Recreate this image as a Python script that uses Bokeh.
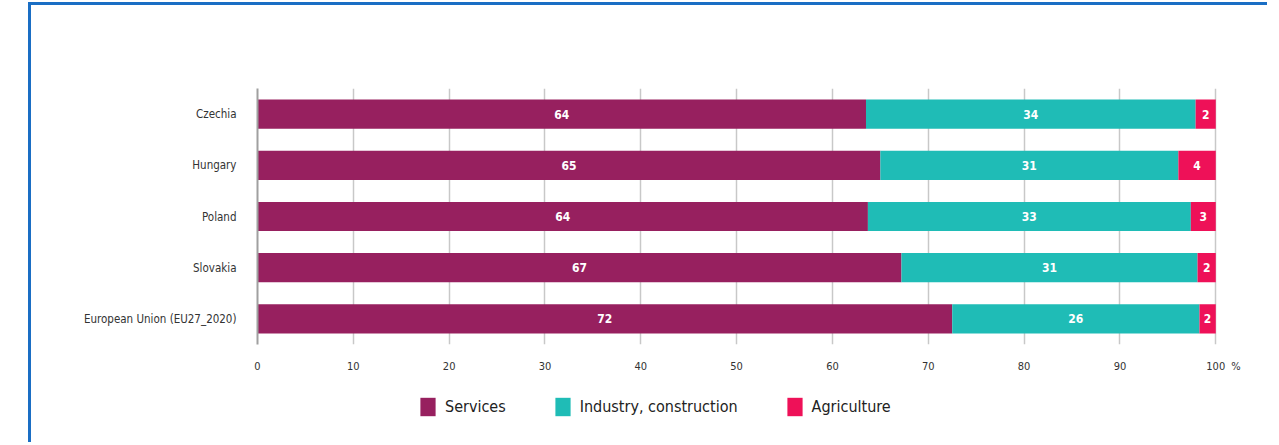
from bokeh.plotting import figure
from bokeh.layouts import column
from bokeh.models import (ColumnDataSource, FactorRange, Legend, LegendItem, FixedTicker)
from bokeh.core.properties import value
from bokeh.embed import file_html
from bokeh.resources import INLINE

countries = ["Czechia", "Hungary", "Poland", "Slovakia", "European Union (EU27_2020)"]
services = [63.5, 65.0, 63.7, 67.2, 72.5]
industry = [34.4, 31.1, 33.7, 30.9, 25.8]
agriculture = [2.1, 3.9, 2.6, 1.9, 1.7]
services_lbl = [64, 65, 64, 67, 72]
industry_lbl = [34, 31, 33, 31, 26]
agriculture_lbl = [2, 4, 3, 2, 2]
x_ticks = [0, 10, 20, 30, 40, 50, 60, 70, 80, 90, 100]
unit_label = "%"
series = ["Services", "Industry, construction", "Agriculture"]
colors = ["#97205f", "#1fbcb6", "#ee1158"]

FONT = "'DejaVu Sans Condensed', 'Liberation Sans Narrow', sans-serif"
UNIT_POS = 102.1  # where the unit sign sits after the last tick

src = ColumnDataSource(dict(country=countries, Services=services,
                            Industry=industry, Agriculture=agriculture))
stack_cols = ["Services", "Industry", "Agriculture"]

p = figure(width=1239, height=372, output_backend="svg", toolbar_location=None,
           x_range=(0, 103), y_range=FactorRange(*countries[::-1], range_padding=0),
           min_border_left=226, min_border_right=26, min_border_top=83,
           min_border_bottom=33)
p.outline_line_color = None
p.background_fill_color = "white"
p.border_fill_color = "white"

rs = p.hbar_stack(stack_cols, y="country", height=0.57,
                  color=colors, source=src, line_color=None)

# value labels centred in each segment
s_mid, i_mid, a_mid = [], [], []
for s, i, a in zip(services, industry, agriculture):
    s_mid.append(s / 2)
    i_mid.append(s + i / 2)
    a_mid.append(s + i + a / 2)
lbl_src = ColumnDataSource(dict(
    x=s_mid + i_mid + a_mid,
    y=countries * 3,
    t=[str(v) for v in services_lbl + industry_lbl + agriculture_lbl]))
p.text(x="x", y="y", text="t", source=lbl_src, text_color="white",
       text_font=value(FONT), text_font_size="12px", text_font_style="bold",
       text_align="center", text_baseline="middle")

# axes
p.xaxis.ticker = FixedTicker(ticks=x_ticks + [UNIT_POS])
p.xaxis.major_label_overrides = {UNIT_POS: unit_label}
p.xaxis.axis_line_color = None
p.xaxis.major_tick_line_color = None
p.xaxis.minor_tick_line_color = None
p.xaxis.major_label_standoff = 9
p.xaxis.major_label_text_font = FONT
p.xaxis.major_label_text_font_size = "11px"
p.xaxis.major_label_text_color = "#333333"

p.yaxis.axis_line_color = "#a0a0a0"
p.yaxis.axis_line_width = 2
p.yaxis.major_tick_line_color = None
p.yaxis.minor_tick_line_color = None
p.yaxis.major_label_standoff = 15
p.yaxis.major_label_text_font = FONT
p.yaxis.major_label_text_font_size = "11.5px"
p.yaxis.major_label_text_color = "#333333"

p.xgrid.ticker = FixedTicker(ticks=x_ticks[1:])
p.xgrid.grid_line_color = "#c8c8c8"
p.xgrid.grid_line_width = 1.5
p.ygrid.grid_line_color = None

# legend strip below the chart (its own bar renderers are hidden; legend shows swatches)
lf = figure(width=1239, height=68, output_backend="svg", toolbar_location=None,
            x_range=(0, 100), y_range=FactorRange(*countries), min_border=0)
lf.outline_line_color = None
lf.axis.visible = False
lf.grid.grid_line_color = None
proxies = lf.hbar_stack(stack_cols, y="country", height=0.5,
                        color=colors, source=src, line_color=None)
for r in proxies:
    r.visible = False
legend = Legend(items=[LegendItem(label=n, renderers=[r]) for n, r in zip(series, proxies)],
                location=(161, 27), orientation="horizontal", border_line_color=None,
                background_fill_alpha=0, padding=0, margin=0, spacing=47,
                glyph_width=19, glyph_height=23, label_standoff=8,
                label_text_font=FONT, label_text_font_size="16px",
                label_text_color="#222222", inactive_fill_alpha=0)
lf.add_layout(legend, "center")

layout = column(p, lf, spacing=0,
                styles={"position": "relative", "left": "31px", "top": "5px",
                        "box-shadow": "-3px -3px 0px 0px #1a6ec4"})

open("out.html", "w").write(file_html(layout, INLINE))
